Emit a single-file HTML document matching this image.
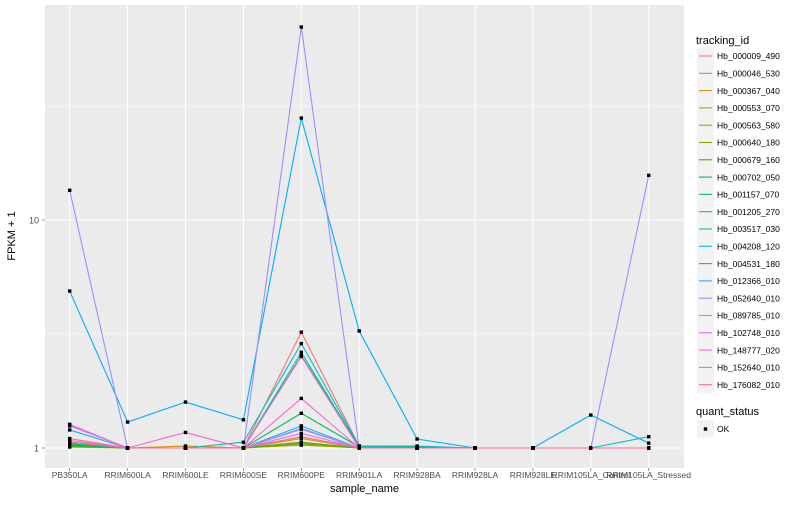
<!DOCTYPE html>
<html><head><meta charset="utf-8"><style>
body{margin:0;background:#fff;font-family:"Liberation Sans",sans-serif}
svg text{font-family:"Liberation Sans",sans-serif}
</style></head><body>
<svg id="chart" width="800" height="500" xmlns="http://www.w3.org/2000/svg">
<rect x="45" y="5" width="639" height="463" fill="#EBEBEB"/>
<g id="grid"></g><g id="lines"></g><g id="points"></g><g id="axes"></g><g id="legend"></g>
</svg>
<script>
const categories=["PB350LA","RRIM600LA","RRIM600LE","RRIM600SE","RRIM600PE","RRIM901LA","RRIM928BA","RRIM928LA","RRIM928LE","RRIM105LA_Control","RRIM105LA_Stressed"];
const seriesNames=["Hb_000009_490","Hb_000046_530","Hb_000367_040","Hb_000553_070","Hb_000563_580","Hb_000640_180","Hb_000679_160","Hb_000702_050","Hb_001157_070","Hb_001205_270","Hb_003517_030","Hb_004208_120","Hb_004531_180","Hb_012366_010","Hb_052640_010","Hb_089785_010","Hb_102748_010","Hb_148777_020","Hb_152640_010","Hb_176082_010"];
const colors=["#F8766D","#EA8331","#D89000","#C09B00","#A3A500","#7CAE00","#39B600","#00BB4E","#00BF7D","#00C1A3","#00BFC4","#00BAE0","#00B0F6","#35A2FF","#9590FF","#C77CFF","#E76BF3","#FA62DB","#FF62BC","#FF6C91"];
const s000009=[1.08,1,1,1,3.22,1.02,1,1,1,1,1];
const s000046=[1.05,1,1,1,1.1,1,1,1,1,1,1];
const s000367=[1.02,1,1.02,1,1.12,1,1,1,1,1,1];
const s000553=[1.02,1,1,1,1.03,1,1,1,1,1,1];
const s000563=[1.01,1,1,1,1.05,1,1,1,1,1,1];
const s000640=[1.03,1,1,1,1.04,1,1,1,1,1,1];
const s000679=[1.02,1,1,1,1.06,1,1,1,1,1,1];
const s000702=[1.03,1,1,1,1.42,1.01,1.01,1,1,1,1];
const s001157=[1.04,1,1,1,2.54,1.02,1,1,1,1,1];
const s001205=[1.05,1,1,1,2.63,1.01,1,1,1,1,1];
const s003517=[1.06,1,1,1.06,2.87,1.02,1.02,1,1,1,1.12];
const s004208=[1.2,1,1,1,1.25,1,1,1,1,1,1];
const s004531=[4.88,1.3,1.59,1.33,28.0,3.26,1.095,1,1,1.395,1.05];
const s012366=[1.06,1,1,1,1.21,1,1,1,1,1,1];
const s052640=[13.5,1,1,1,70.2,1,1,1,1,1,15.7];
const s089785=[1.25,1,1,1,1.22,1,1,1,1,1,1];
const s102748=[1.26,1,1,1,1.16,1,1,1,1,1,1];
const s148777=[1.27,1,1,1,1.65,1,1,1,1,1,1];
const s152640=[1.1,1,1.17,1,2.52,1,1,1,1,1,1];
const s176082=[1.06,1,1,1,1.12,1,1,1,1,1,1];
const seriesValues=[s000009,s000046,s000367,s000553,s000563,s000640,s000679,s000702,s001157,s001205,s003517,s004208,s004531,s012366,s052640,s089785,s102748,s148777,s152640,s176082];
const yTicks=[1,10];
const yTickLabels=["1","10"];
const yMinor=[Math.sqrt(10),Math.sqrt(1000)];

const NS="http://www.w3.org/2000/svg";
function mk(tag,attrs,parent,txt){const e=document.createElementNS(NS,tag);for(const k in attrs)e.setAttribute(k,attrs[k]);if(txt!==undefined)e.textContent=txt;parent.appendChild(e);return e;}
const x=i=>69.7+i*57.9;
const y=v=>448-228*Math.log10(v);
const grid=document.getElementById('grid'),lines=document.getElementById('lines'),pts=document.getElementById('points'),axes=document.getElementById('axes'),leg=document.getElementById('legend');

yMinor.forEach(v=>{const l=mk('line',{x1:45,x2:684,y1:y(v),y2:y(v),stroke:'#fff','stroke-width':0.5},grid);

});
yTicks.forEach((v,i)=>{const l=mk('line',{x1:45,x2:684,y1:y(v),y2:y(v),stroke:'#fff','stroke-width':1.1},grid);


const t=mk('text',{x:39,y:y(v)+3.5,'text-anchor':'end','font-size':9,fill:'#4D4D4D'},axes,yTickLabels[i]);


const tk=mk('line',{x1:42,x2:45,y1:y(v),y2:y(v),stroke:'#333','stroke-width':0.5},axes);

});
categories.forEach((c,i)=>{const l=mk('line',{x1:x(i),x2:x(i),y1:5,y2:468,stroke:'#fff','stroke-width':1.1},grid);


const t=mk('text',{x:x(i),y:478,'text-anchor':'middle','font-size':8.5,fill:'#4D4D4D'},axes,c);


const tk=mk('line',{x1:x(i),x2:x(i),y1:468,y2:471,stroke:'#333','stroke-width':0.5},axes);

});

seriesValues.forEach((vals,si)=>{const p=mk('polyline',{points:vals.map((v,i)=>x(i)+','+y(v)).join(' '),fill:'none',stroke:colors[si],'stroke-width':1.1},lines);


vals.forEach((v,i)=>{const r=mk('rect',{x:x(i)-1.7,y:y(v)-1.7,width:3.4,height:3.4,fill:'#000'},pts);

});});

const xt=mk('text',{x:364.5,y:492,'text-anchor':'middle','font-size':11,fill:'#000'},axes,'sample_name');


const yt=mk('text',{x:0,y:0,transform:'translate(15,236) rotate(-90)','text-anchor':'middle','font-size':11,fill:'#000'},axes,'FPKM + 1');



const lt=mk('text',{x:696,y:44,'font-size':11,fill:'#000'},leg,'tracking_id');


seriesNames.forEach((n,i)=>{const cy=56+i*17.3;
const g=mk('g',{},leg);


mk('rect',{x:697,y:cy-8.5,width:17,height:17,fill:'#F2F2F2'},g);
mk('line',{x1:699,x2:712,y1:cy,y2:cy,stroke:colors[i],'stroke-width':1.1},g);
mk('text',{x:717,y:cy+3.2,'font-size':8.5,fill:'#000'},g,n);});
const qt=mk('text',{x:696,y:415,'font-size':11,fill:'#000'},leg,'quant_status');


const qg=mk('g',{},leg);


mk('rect',{x:697,y:420.5,width:17,height:17,fill:'#F2F2F2'},qg);
mk('rect',{x:703.8,y:427.3,width:3.4,height:3.4,fill:'#000'},qg);
mk('text',{x:717,y:432.2,'font-size':8.5,fill:'#000'},qg,'OK');
</script>
</body></html>
